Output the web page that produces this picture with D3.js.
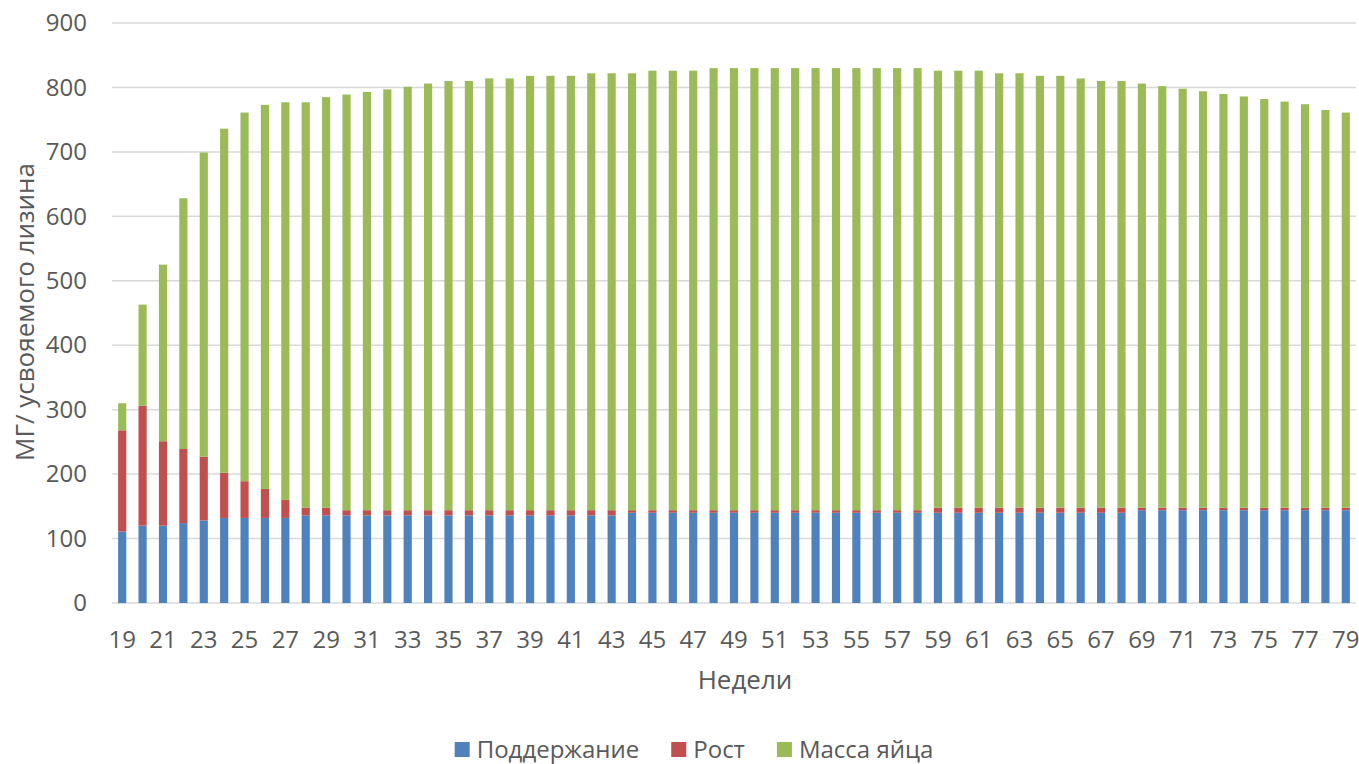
<!DOCTYPE html>
<html>
<head>
<meta charset="utf-8">
<script src="https://cdn.jsdelivr.net/npm/d3@7"></script>
<style>
  html, body { margin: 0; padding: 0; background: #fff; }
  svg { display: block; font-family: "Open Sans", "Noto Sans", sans-serif; }
</style>
</head>
<body>
<svg id="chart" width="1359" height="764"></svg>
<script>
// ---- Data ----
const weeks = d3.range(19, 80).map(String);
const seriesNames = ["Поддержание", "Рост", "Масса яйца"];
const maintenance = [111,120,120,124,128,132,132,132,132,
  136,136,136,136,136,136,136,136,136,136,136,136,136,136,136,136,
  140,140,140,140,140,140,140,140,140,140,140,140,140,140,140,140,140,140,140,140,140,140,140,140,140,
  144,144,144,144,144,144,144,144,144,144,144];
const growth = [157,186,131,115,99,70,57,45,28,12,12,
  8,8,8,8,8,8,8,8,8,8,8,8,8,8,
  4,4,4,4,4,4,4,4,4,4,4,4,4,4,4,
  8,8,8,8,8,8,8,8,8,8,
  4,4,4,4,4,4,4,4,4,4,4];
const eggMass = [42,157,274,389,472,534,572,596,617,629,637,645,649,653,657,662,666,666,670,670,674,674,674,678,678,678,682,682,682,
  686,686,686,686,686,686,686,686,686,686,686,
  678,678,678,674,674,670,670,666,662,662,658,654,650,646,642,638,634,630,626,617,613];
const yTicks = [0,100,200,300,400,500,600,700,800,900];
const xTickLabels = weeks.filter((w, i) => i % 2 === 0);
const yTitle = "МГ/ усвояемого лизина";
const xTitle = "Недели";

// ---- Layout ----
const colors = ["#4f81bd", "#c0504d", "#9bbb59"];
const textColor = "#595959";
const plotLeft = 112, plotRight = 1356, plotTop = 23, plotBottom = 603;

const svg = d3.select("#chart");
const rows = weeks.map((w, i) => ({ week: w, s0: maintenance[i], s1: growth[i], s2: eggMass[i] }));
const stacked = d3.stack().keys(["s0", "s1", "s2"])(rows);

const x = d3.scaleBand().domain(weeks).range([plotLeft, plotRight]).paddingInner(0.6).paddingOuter(0.3);
const y = d3.scaleLinear().domain([0, 900]).range([plotBottom, plotTop]);

// gridlines
svg.append("g")
  .selectAll("line")
  .data(yTicks)
  .join("line")
  .attr("x1", plotLeft).attr("x2", plotRight)
  .attr("y1", d => y(d)).attr("y2", d => y(d))
  .attr("stroke", "#d9d9d9")
  .attr("stroke-width", 1.5);

// bars
svg.append("g")
  .selectAll("g")
  .data(stacked)
  .join("g")
  .attr("fill", (d, i) => colors[i])
  .selectAll("rect")
  .data(d => d)
  .join("rect")
  .attr("x", d => x(d.data.week))
  .attr("width", x.bandwidth())
  .attr("y", d => y(d[1]))
  .attr("height", d => y(d[0]) - y(d[1]));

// y axis
const yAxis = d3.axisLeft(y).tickValues(yTicks).tickSize(0).tickPadding(0);
const gy = svg.append("g").attr("transform", `translate(87,0)`).call(yAxis);
gy.select(".domain").remove();
gy.selectAll("text").attr("fill", textColor).style("font-size", "24px").style("font-family", "'Open Sans'");

// x axis
const xAxis = d3.axisBottom(x).tickValues(xTickLabels).tickSize(0).tickPadding(0);
const gx = svg.append("g").attr("transform", `translate(0,${plotBottom})`).call(xAxis);
gx.select(".domain").remove();
gx.selectAll("text").attr("fill", textColor).attr("dy", null).attr("y", 45)
  .style("font-size", "24px").style("font-family", "'Open Sans'");

// axis titles
svg.append("text")
  .attr("transform", `translate(34,312) rotate(-90)`)
  .attr("text-anchor", "middle")
  .attr("fill", textColor)
  .style("font-size", "26px")
  .text(yTitle);

svg.append("text")
  .attr("x", 745).attr("y", 689)
  .attr("text-anchor", "middle")
  .attr("fill", textColor)
  .style("font-size", "26px")
  .text(xTitle);

// legend
const legend = svg.append("g");
let lx = 0;
seriesNames.forEach((name, i) => {
  const g = legend.append("g").attr("transform", `translate(${lx},0)`);
  g.append("rect").attr("x", 0).attr("y", 742).attr("width", 15).attr("height", 15).attr("fill", colors[i]);
  const t = g.append("text").attr("x", 22).attr("y", 758).attr("fill", textColor)
    .style("font-size", "24px").text(name);
  lx += 22 + t.node().getComputedTextLength() + 32;
});
const legendWidth = lx - 32;
legend.attr("transform", `translate(${694 - legendWidth / 2},0)`);
</script>
</body>
</html>
